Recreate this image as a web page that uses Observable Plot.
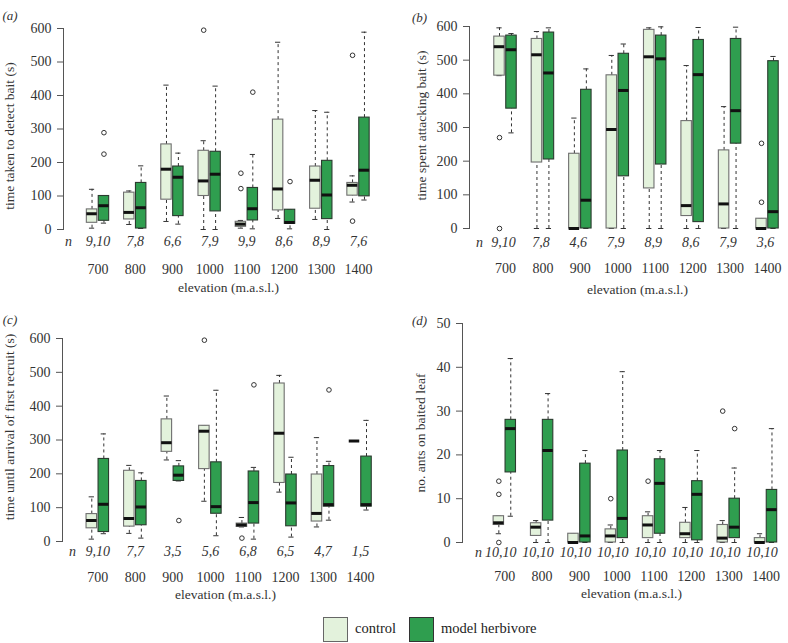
<!DOCTYPE html>
<html><head><meta charset="utf-8">
<script src="https://cdn.jsdelivr.net/npm/d3@7"></script>
<script src="https://cdn.jsdelivr.net/npm/@observablehq/plot@0.6"></script>
<style>
body{margin:0;background:#fff;width:788px;height:643px;overflow:hidden;position:relative;font-family:"Liberation Serif","DejaVu Serif",serif;}
.panel{position:absolute;}
#legend{position:absolute;left:0;top:617px;width:788px;height:26px;font-size:14.5px;color:#222;}
.sw{position:absolute;top:0;width:23px;height:23px;}
.lt{position:absolute;top:3px;}
</style></head><body>
<div id="pa" class="panel" style="left:0;top:0"></div>
<div id="pb" class="panel" style="left:394px;top:0"></div>
<div id="pc" class="panel" style="left:0;top:300px"></div>
<div id="pd" class="panel" style="left:394px;top:300px"></div>
<div id="legend">
  <div class="sw" style="left:323px;background:#e3f2dc;border:1px solid #666"></div>
  <div class="lt" style="left:355px">control</div>
  <div class="sw" style="left:409px;background:#2f9e4f;border:1px solid #333"></div>
  <div class="lt" style="left:441px">model herbivore</div>
</div>
<script>
const elevations = [700, 800, 900, 1000, 1100, 1200, 1300, 1400];
const groups = ["control", "model herbivore"];

// box stats: [lower whisker, Q1, median, Q3, upper whisker]
const detectControl = [[4,20,47,60,120],[15,30,51,110,115],[24,89,180,254,431],[0,100,145,235,265],[4,8,16,23,27],[33,57,121,328,559],[30,62,147,188,355],[82,101,132,139,160]];
const detectHerb = [[19,26,71,100,100],[3,3,65,139,190],[16,40,156,188,228],[0,54,165,232,428],[2,27,62,124,224],[2,17,21,59,59],[0,31,103,205,350],[88,99,177,334,589]];
const detectControlOut = [[],[],[],[595],[168,122],[],[],[520,25]];
const detectHerbOut = [[289,225],[],[],[],[410],[143],[],[]];
const detectN = ["9,10","7,8","6,6","7,9","9,9","8,6","8,9","7,6"];

const attackControl = [[454,454,540,570,596],[0,196,516,563,585],[0,0,0,222,328],[0,0,294,455,514],[0,119,510,590,596],[0,37,68,319,484],[0,0,73,232,362],[0,0,0,29,29]];
const attackHerb = [[284,356,531,573,579],[0,205,462,582,596],[0,0,84,412,474],[0,155,410,519,548],[0,190,504,573,599],[0,19,457,560,597],[0,252,350,563,598],[0,0,50,497,511]];
const attackControlOut = [[270,0],[],[],[],[],[],[],[253,78]];
const attackHerbOut = [[],[],[],[],[],[],[],[]];
const attackN = ["9,10","7,8","4,6","7,9","8,9","8,6","7,9","3,6"];

const recruitControl = [[7,39,62,81,132],[24,44,68,209,225],[241,265,292,361,430],[119,214,326,342,342],[43,43,49,53,71],[146,173,320,467,491],[43,59,83,198,307],[297,297,297,297,297]];
const recruitHerb = [[23,28,110,244,318],[10,48,102,179,203],[179,179,196,222,239],[17,82,103,234,447],[7,53,115,207,219],[13,45,114,198,249],[63,103,109,223,237],[93,103,109,251,358]];
const recruitControlOut = [[],[],[],[595],[10],[],[],[]];
const recruitHerbOut = [[],[],[62],[],[463],[],[448],[]];
const recruitN = ["9,10","7,7","3,5","5,6","6,8","6,5","4,7","1,5"];

const antsControl = [[2,4,4.5,6,6],[0,1.5,3.5,4.4,5],[0,0,0,2,2],[0,0,1.5,3,4],[0,1,4,6,7],[0,1,2,4.5,8],[0,0,1,4,5],[0,0,0,1,2]];
const antsHerb = [[6,16,26,28,42],[0,5,21,28,34],[0,0,1.5,18,21],[0,1,5.5,21,39],[0,2,13.5,19,21],[0,0.5,11,14,21],[0,1,3.5,10,17],[0,0,7.5,12,26]];
const antsControlOut = [[14,11,0],[],[],[10],[14],[],[30],[]];
const antsHerbOut = [[],[],[],[],[],[],[26],[]];
const antsN = ["10,10","10,10","10,10","10,10","10,10","10,10","10,10","10,10"];

const yTicks600 = [0, 100, 200, 300, 400, 500, 600];
const yTicks50 = [0, 10, 20, 30, 40, 50];

const fills = {"control": "#e3f2dc", "model herbivore": "#2f9e4f"};
const strokes = {"control": "#6f6f6f", "model herbivore": "#2b3b2f"};
const OFF = 16, HALF = 14, CAP = 7;
const cx = d => d.elev + (d.group === "control" ? -OFF : OFF);

function buildRows(ctrl, herb) {
  const rows = [];
  elevations.forEach((e, i) => {
    [[groups[0], ctrl[i]], [groups[1], herb[i]]].forEach(([g, s]) => {
      rows.push({elev: e, group: g, lo: s[0], q1: s[1], med: s[2], q3: s[3], hi: s[4]});
    });
  });
  return rows;
}
function buildOut(ctrlOut, herbOut) {
  const out = [];
  elevations.forEach((e, i) => {
    ctrlOut[i].forEach(v => out.push({elev: e, group: groups[0], value: v}));
    herbOut[i].forEach(v => out.push({elev: e, group: groups[1], value: v}));
  });
  return out;
}

function panel(cfg) {
  const rows = buildRows(cfg.ctrl, cfg.herb);
  const outs = buildOut(cfg.ctrlOut, cfg.herbOut);
  const frameCenter = (cfg.ml + cfg.width - 10) / 2;
  return Plot.plot({
    width: cfg.width, height: cfg.height,
    marginLeft: cfg.ml, marginRight: 10, marginTop: cfg.mt, marginBottom: cfg.height - cfg.bottom,
    style: {fontFamily: "Liberation Serif", fontSize: "14px", color: "#333", background: "transparent", overflow: "visible"},
    x: {domain: [700, 1400], range: cfg.xr},
    y: {domain: cfg.ydom},
    marks: [
      Plot.frame({anchor: "left", stroke: "#555"}),
      Plot.axisY({ticks: cfg.yticks, tickSize: 6, tickPadding: 6, label: null, fontSize: 14, color: "#333", stroke: "#555"}),
      Plot.axisX({ticks: elevations, tickSize: 0, tickPadding: cfg.tickDy, lineAnchor: "middle", tickFormat: d => String(d), label: null, fontSize: 14, color: "#333"}),
      Plot.ruleX(rows, {x: cx, y1: "lo", y2: "q1", stroke: "#333", strokeDasharray: "3,3", strokeWidth: 1}),
      Plot.ruleX(rows, {x: cx, y1: "q3", y2: "hi", stroke: "#333", strokeDasharray: "3,3", strokeWidth: 1}),
      Plot.ruleY(rows, {y: "lo", x1: d => cx(d) - CAP, x2: d => cx(d) + CAP, stroke: "#333", strokeWidth: 1}),
      Plot.ruleY(rows, {y: "hi", x1: d => cx(d) - CAP, x2: d => cx(d) + CAP, stroke: "#333", strokeWidth: 1}),
      Plot.rect(rows, {x1: d => cx(d) - HALF, x2: d => cx(d) + HALF, y1: "q1", y2: "q3", fill: d => fills[d.group], stroke: d => strokes[d.group], strokeWidth: 1.1}),
      Plot.ruleY(rows, {y: "med", x1: d => cx(d) - HALF, x2: d => cx(d) + HALF, stroke: "#111", strokeWidth: 3}),
      Plot.dot(outs, {x: cx, y: "value", r: 2.3, stroke: "#333", fill: "none", strokeWidth: 1}),
      Plot.text(elevations, {x: d => d, text: (d, i) => cfg.nLab[i], frameAnchor: "bottom", dy: cfg.nDy, dx: cfg.nDx || 0, fontStyle: "italic", fontSize: 14, fill: "#333"}),
      Plot.text(["n"], {text: d => d, frameAnchor: "bottom-left", textAnchor: "middle", dx: cfg.nLetterX - cfg.ml, dy: cfg.nDy, fontStyle: "italic", fontSize: 14, fill: "#333"}),
      Plot.text(["elevation (m.a.s.l.)"], {text: d => d, frameAnchor: "bottom", textAnchor: "middle", dx: cfg.titleX - frameCenter, dy: cfg.titleDy, fontSize: 13.5, fill: "#333"}),
      Plot.text([cfg.yTitle], {text: d => d, frameAnchor: "left", textAnchor: "middle", rotate: -90, dx: cfg.yTitleX - cfg.ml, dy: cfg.yTitleDy, fontSize: 13.5, fill: "#333"}),
      Plot.text([cfg.letter], {text: d => d, frameAnchor: "top-left", textAnchor: "middle", dx: cfg.letterX - cfg.ml, dy: cfg.letterY - cfg.mt, fontStyle: "italic", fontSize: 13, fill: "#333"})
    ]
  });
}

document.getElementById("pa").append(panel({
  width: 394, height: 300, ml: 63, mt: 28, bottom: 229, xr: [97.5, 358], ydom: [0, 600], yticks: yTicks600,
  ctrl: detectControl, herb: detectHerb, ctrlOut: detectControlOut, herbOut: detectHerbOut, nLab: detectN,
  nDy: 16, tickDy: 40, titleDy: 62, titleX: 228, yTitle: "time taken to detect bait (s)", yTitleX: 9, yTitleDy: 7,
  letter: "(a)", letterX: 9.5, letterY: 10, nLetterX: 68
}));
document.getElementById("pb").append(panel({
  width: 394, height: 300, ml: 75, mt: 26, bottom: 228, xr: [111, 373], ydom: [0, 600], yticks: yTicks600,
  ctrl: attackControl, herb: attackHerb, ctrlOut: attackControlOut, herbOut: attackHerbOut, nLab: attackN,
  nDy: 18, tickDy: 40, titleDy: 65, titleX: 243, yTitle: "time spent attacking bait (s)", yTitleX: 27, yTitleDy: -2,
  letter: "(b)", letterX: 25, letterY: 12, nLetterX: 85, nDx: -2
}));
document.getElementById("pc").append(panel({
  width: 394, height: 310, ml: 62, mt: 38, bottom: 241, xr: [97.3, 360], ydom: [0, 600], yticks: yTicks600,
  ctrl: recruitControl, herb: recruitHerb, ctrlOut: recruitControlOut, herbOut: recruitHerbOut, nLab: recruitN,
  nDy: 14, tickDy: 36, titleDy: 57, titleX: 225, yTitle: "time until arrival of first recruit (s)", yTitleX: 9, yTitleDy: -13,
  letter: "(c)", letterX: 9.5, letterY: 14, nLetterX: 72
}));
document.getElementById("pd").append(panel({
  width: 394, height: 310, ml: 68, mt: 23, bottom: 242, xr: [110.3, 371.5], ydom: [0, 50], yticks: yTicks50,
  ctrl: antsControl, herb: antsHerb, ctrlOut: antsControlOut, herbOut: antsHerbOut, nLab: antsN,
  nDy: 14, tickDy: 34, titleDy: 55, titleX: 237, yTitle: "no. ants on baited leaf", yTitleX: 26, yTitleDy: 0,
  letter: "(d)", letterX: 25, letterY: 15, nLetterX: 84, nDx: -4
}));
</script>
</body></html>
